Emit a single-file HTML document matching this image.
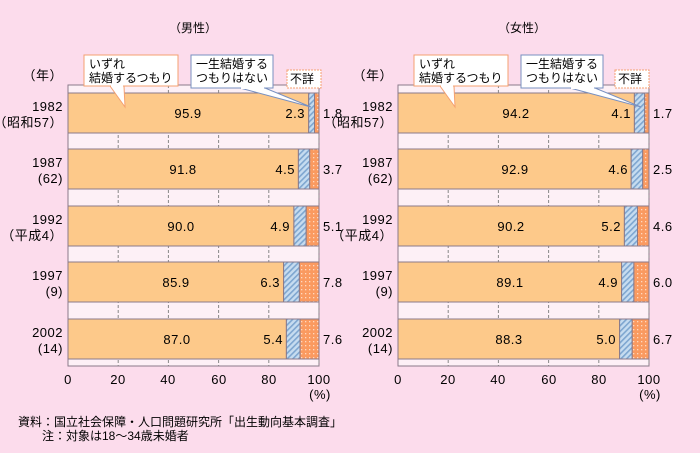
<!DOCTYPE html>
<html><head><meta charset="utf-8"><style>
body{margin:0;background:#fcdcec;}
svg{display:block;font-family:"Liberation Sans","Noto Sans CJK JP",sans-serif;}
</style></head><body>
<svg width="700" height="453" viewBox="0 0 700 453">
<defs>
<pattern id="hat" width="4" height="4" patternUnits="userSpaceOnUse" patternTransform="rotate(45)">
<rect width="4" height="4" fill="#c6dcf0"/><rect width="1.6" height="4" fill="#7ea6d0"/></pattern>
<pattern id="dot" width="4" height="4" patternUnits="userSpaceOnUse">
<rect width="4" height="4" fill="#fa9a60"/><rect x="1" y="1" width="1.3" height="1.3" fill="#ffd9c0"/></pattern>
</defs>
<rect width="700" height="453" fill="#fcdcec"/>
<g font-size="12" fill="#000">
<text x="193" y="32" text-anchor="middle">（男性）</text>
<text x="522" y="32" text-anchor="middle">（女性）</text>
</g>

<!-- LEFT CHART -->
<g>
<rect x="68" y="85" width="251" height="281" fill="#fdf0f6" stroke="#8a7a8a" stroke-width="1"/>
<g stroke="#888" stroke-dasharray="3,2" stroke-width="1">
<line x1="118.2" y1="85" x2="118.2" y2="366"/><line x1="168.4" y1="85" x2="168.4" y2="366"/><line x1="218.6" y1="85" x2="218.6" y2="366"/><line x1="268.8" y1="85" x2="268.8" y2="366"/><line x1="319" y1="85" x2="319" y2="366"/>
</g>
<g stroke="#8a7a8a">
<rect x="68" y="93" width="240.7" height="40" fill="#fdc98a"/><rect x="308.7" y="93" width="5.8" height="40" fill="url(#hat)"/><rect x="314.5" y="93" width="4.5" height="40" fill="url(#dot)"/>
<rect x="68" y="149" width="230.4" height="40" fill="#fdc98a"/><rect x="298.4" y="149" width="11.3" height="40" fill="url(#hat)"/><rect x="309.7" y="149" width="9.3" height="40" fill="url(#dot)"/>
<rect x="68" y="206" width="225.9" height="40" fill="#fdc98a"/><rect x="293.9" y="206" width="12.3" height="40" fill="url(#hat)"/><rect x="306.2" y="206" width="12.8" height="40" fill="url(#dot)"/>
<rect x="68" y="262" width="215.6" height="40" fill="#fdc98a"/><rect x="283.6" y="262" width="15.8" height="40" fill="url(#hat)"/><rect x="299.4" y="262" width="19.6" height="40" fill="url(#dot)"/>
<rect x="68" y="319" width="218.4" height="40" fill="#fdc98a"/><rect x="286.4" y="319" width="13.6" height="40" fill="url(#hat)"/><rect x="300" y="319" width="19" height="40" fill="url(#dot)"/>
</g>
<g font-size="13" fill="#000" letter-spacing="0.5">
<text x="188" y="118" text-anchor="middle">95.9</text><text x="305" y="118" text-anchor="end">2.3</text><text x="323" y="118">1.8</text>
<text x="183" y="174" text-anchor="middle">91.8</text><text x="295" y="174" text-anchor="end">4.5</text><text x="323" y="174">3.7</text>
<text x="181" y="231" text-anchor="middle">90.0</text><text x="290" y="231" text-anchor="end">4.9</text><text x="323" y="231">5.1</text>
<text x="176" y="287" text-anchor="middle">85.9</text><text x="280" y="287" text-anchor="end">6.3</text><text x="323" y="287">7.8</text>
<text x="177" y="344" text-anchor="middle">87.0</text><text x="283" y="344" text-anchor="end">5.4</text><text x="323" y="344">7.6</text>
<text x="63" y="80" text-anchor="end">（年）</text>
<text x="63" y="111" text-anchor="end">1982</text><text x="63" y="127" text-anchor="end">（昭和57）</text>
<text x="63" y="167" text-anchor="end">1987</text><text x="63" y="183" text-anchor="end">(62)</text>
<text x="63" y="224" text-anchor="end">1992</text><text x="63" y="240" text-anchor="end">（平成4）</text>
<text x="63" y="280" text-anchor="end">1997</text><text x="63" y="296" text-anchor="end">(9)</text>
<text x="63" y="337" text-anchor="end">2002</text><text x="63" y="353" text-anchor="end">(14)</text>
<g text-anchor="middle"><text x="68" y="384">0</text><text x="118" y="384">20</text><text x="168" y="384">40</text><text x="219" y="384">60</text><text x="269" y="384">80</text><text x="319" y="384">100</text><text x="320" y="399">(%)</text></g>
</g>
<polygon points="110,86 125,107 124,86" fill="#fff" stroke="#f5a070"/>
<rect x="84" y="55" width="94" height="31" fill="#fff" stroke="#f5a070"/>
<line x1="111" y1="86" x2="123" y2="86" stroke="#fff" stroke-width="2"/>
<polygon points="240,88 311,107 265,88" fill="#fff" stroke="#7890c0"/>
<rect x="191" y="55" width="82" height="33" fill="#fff" stroke="#7890c0"/>
<line x1="241" y1="88" x2="264" y2="88" stroke="#fff" stroke-width="2"/>
<rect x="287" y="70" width="34" height="18" fill="#fff" stroke="#f5a070" stroke-dasharray="2,1"/>
<g font-size="12"><text x="89" y="68">いずれ</text><text x="89" y="82">結婚するつもり</text>
<text x="196" y="68">一生結婚する</text><text x="196" y="82">つもりはない</text><text x="290" y="83">不詳</text></g>
</g>

<!-- RIGHT CHART -->
<g>
<rect x="398" y="85" width="251" height="281" fill="#fdf0f6" stroke="#8a7a8a" stroke-width="1"/>
<g stroke="#888" stroke-dasharray="3,2" stroke-width="1">
<line x1="448.2" y1="85" x2="448.2" y2="366"/><line x1="498.4" y1="85" x2="498.4" y2="366"/><line x1="548.6" y1="85" x2="548.6" y2="366"/><line x1="598.8" y1="85" x2="598.8" y2="366"/><line x1="649" y1="85" x2="649" y2="366"/>
</g>
<g stroke="#8a7a8a">
<rect x="398" y="93" width="236.4" height="40" fill="#fdc98a"/><rect x="634.4" y="93" width="10.3" height="40" fill="url(#hat)"/><rect x="644.7" y="93" width="4.3" height="40" fill="url(#dot)"/>
<rect x="398" y="149" width="233.2" height="40" fill="#fdc98a"/><rect x="631.2" y="149" width="11.5" height="40" fill="url(#hat)"/><rect x="642.7" y="149" width="6.3" height="40" fill="url(#dot)"/>
<rect x="398" y="206" width="226.4" height="40" fill="#fdc98a"/><rect x="624.4" y="206" width="13.1" height="40" fill="url(#hat)"/><rect x="637.5" y="206" width="11.5" height="40" fill="url(#dot)"/>
<rect x="398" y="262" width="223.6" height="40" fill="#fdc98a"/><rect x="621.6" y="262" width="12.3" height="40" fill="url(#hat)"/><rect x="633.9" y="262" width="15.1" height="40" fill="url(#dot)"/>
<rect x="398" y="319" width="221.6" height="40" fill="#fdc98a"/><rect x="619.6" y="319" width="12.6" height="40" fill="url(#hat)"/><rect x="632.2" y="319" width="16.8" height="40" fill="url(#dot)"/>
</g>
<g font-size="13" fill="#000" letter-spacing="0.5">
<text x="516" y="118" text-anchor="middle">94.2</text><text x="631" y="118" text-anchor="end">4.1</text><text x="653" y="118">1.7</text>
<text x="515" y="174" text-anchor="middle">92.9</text><text x="628" y="174" text-anchor="end">4.6</text><text x="653" y="174">2.5</text>
<text x="511" y="231" text-anchor="middle">90.2</text><text x="621" y="231" text-anchor="end">5.2</text><text x="653" y="231">4.6</text>
<text x="510" y="287" text-anchor="middle">89.1</text><text x="618" y="287" text-anchor="end">4.9</text><text x="653" y="287">6.0</text>
<text x="509" y="344" text-anchor="middle">88.3</text><text x="616" y="344" text-anchor="end">5.0</text><text x="653" y="344">6.7</text>
<text x="393" y="80" text-anchor="end">（年）</text>
<text x="393" y="111" text-anchor="end">1982</text><text x="393" y="127" text-anchor="end">（昭和57）</text>
<text x="393" y="167" text-anchor="end">1987</text><text x="393" y="183" text-anchor="end">(62)</text>
<text x="393" y="224" text-anchor="end">1992</text><text x="393" y="240" text-anchor="end">（平成4）</text>
<text x="393" y="280" text-anchor="end">1997</text><text x="393" y="296" text-anchor="end">(9)</text>
<text x="393" y="337" text-anchor="end">2002</text><text x="393" y="353" text-anchor="end">(14)</text>
<g text-anchor="middle"><text x="398" y="384">0</text><text x="448" y="384">20</text><text x="498" y="384">40</text><text x="549" y="384">60</text><text x="599" y="384">80</text><text x="649" y="384">100</text><text x="650" y="399">(%)</text></g>
</g>
<polygon points="440,86 455,107 454,86" fill="#fff" stroke="#f5a070"/>
<rect x="414" y="55" width="94" height="31" fill="#fff" stroke="#f5a070"/>
<line x1="441" y1="86" x2="453" y2="86" stroke="#fff" stroke-width="2"/>
<polygon points="570,88 641,107 595,88" fill="#fff" stroke="#7890c0"/>
<rect x="521" y="55" width="82" height="33" fill="#fff" stroke="#7890c0"/>
<line x1="571" y1="88" x2="594" y2="88" stroke="#fff" stroke-width="2"/>
<rect x="615" y="70" width="34" height="18" fill="#fff" stroke="#f5a070" stroke-dasharray="2,1"/>
<g font-size="12"><text x="419" y="68">いずれ</text><text x="419" y="82">結婚するつもり</text>
<text x="526" y="68">一生結婚する</text><text x="526" y="82">つもりはない</text><text x="618" y="83">不詳</text></g>
</g>

<g font-size="12" fill="#000">
<text x="18" y="426">資料：国立社会保障・人口問題研究所「出生動向基本調査」</text>
<text x="42" y="440">注：対象は18～34歳未婚者</text>
</g>
</svg>
</body></html>
